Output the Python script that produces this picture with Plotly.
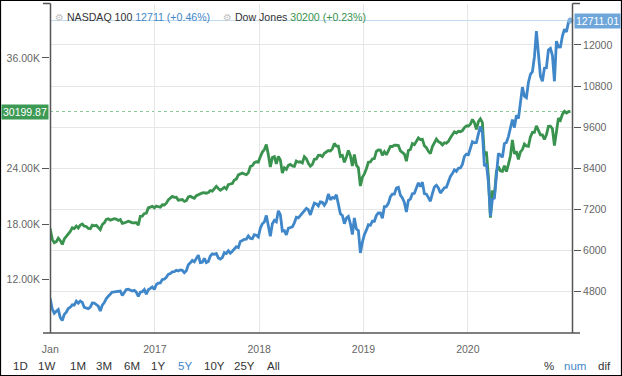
import pandas as pd
import plotly.graph_objects as go

# ---- data: weekly closes (Fridays) from 2015-12-25 to 2020-12-25 ----
week_start = "2015-12-25"

dow_2015 = [17552, 17425]
dow_2016 = [16346, 15988, 16094, 16466, 16205, 15800, 16392, 16640, 17007, 17213, 17602, 17516,
            17793, 17577, 17898, 18004, 17774, 17741, 17535, 17501, 17873, 17807, 17865, 17675,
            17400, 17949, 18147, 18516, 18571, 18432, 18543, 18577, 18553, 18395, 18492, 18085,
            18124, 18261, 18308, 18240, 18138, 18146, 18161, 17888, 18847, 18868, 19152, 19171,
            19757, 19843, 19934, 19763]
dow_2017 = [19964, 19886, 19827, 20094, 20071, 20269, 20624, 20822, 21005, 20903, 20914, 20596,
            20663, 20656, 20453, 20548, 20941, 21006, 20897, 20804, 21080, 21206, 21271, 21384,
            21394, 21350, 21414, 21637, 21580, 21830, 22092, 21858, 21675, 21814, 21988, 21797,
            22268, 22349, 22405, 22773, 22871, 23329, 23434, 23539, 23422, 23358, 23558, 24231,
            24329, 24651, 24754, 24719]
dow_2018 = [25295, 25803, 26071, 26617, 25521, 24190, 25219, 25310, 24538, 25336, 24946, 23533,
            24103, 23933, 24360, 24463, 24311, 24263, 24831, 24715, 24753, 24635, 25317, 25090,
            24581, 24271, 24456, 25019, 25058, 25451, 25463, 25313, 25669, 25790, 25965, 25917,
            26155, 26744, 26458, 26447, 25340, 25444, 24688, 25271, 25989, 25413, 24286, 25538,
            24389, 24101, 22130, 23062]
dow_2019 = [23433, 23996, 24706, 24737, 25064, 25106, 25883, 26031, 26026, 25450, 25849, 25502,
            25929, 26425, 26412, 26559, 26543, 26505, 25942, 25764, 25586, 24815, 25984, 26090,
            26720, 26600, 26922, 27332, 27154, 27192, 26485, 26287, 25886, 25629, 26403, 26797,
            27220, 26935, 26820, 26573, 26817, 26770, 26958, 27347, 27681, 28005, 27876, 28051,
            28015, 28135, 28455, 28645]
dow_2020 = [28634, 28823, 29348, 28990, 28256, 29102, 29398, 28992, 25409, 25864, 23186, 18700,
            21637, 21053, 23719, 24242, 23775, 23724, 24331, 23685, 24465, 25383, 27111, 25606,
            25871, 25016, 25827, 26075, 26672, 26470, 26428, 27433, 27931, 27930, 28654, 28133,
            27666, 27657, 27174, 27683, 28587, 28606, 28336, 26502, 28323, 29480, 29263, 29910,
            30218, 30046, 30179, 30199.87]

ndx_2015 = [4655, 4593]
ndx_2016 = [4290, 4169, 4226, 4279, 4042, 3960, 4137, 4201, 4309, 4345, 4418, 4410,
            4525, 4462, 4526, 4489, 4341, 4329, 4306, 4350, 4474, 4470, 4428, 4379,
            4234, 4410, 4484, 4600, 4666, 4730, 4791, 4797, 4807, 4795, 4820, 4690,
            4782, 4863, 4875, 4846, 4822, 4839, 4789, 4660, 4786, 4800, 4865, 4724,
            4857, 4897, 4941, 4864]
ndx_2017 = [5008, 5052, 5057, 5157, 5165, 5221, 5307, 5332, 5380, 5385, 5426, 5402,
            5436, 5424, 5352, 5412, 5584, 5642, 5711, 5672, 5788, 5867, 5647, 5660,
            5770, 5647, 5678, 5838, 5902, 5888, 5913, 5786, 5753, 5795, 5939, 5915,
            5996, 5925, 5980, 6051, 6110, 6084, 6267, 6293, 6330, 6335, 6425, 6353,
            6344, 6463, 6448, 6397]
ndx_2018 = [6653, 6782, 6834, 7022, 6763, 6417, 6780, 6883, 6838, 7159, 7047, 6570,
            6581, 6456, 6652, 6672, 6694, 6809, 6972, 6954, 7025, 7107, 7166, 7233,
            7192, 7040, 7226, 7385, 7359, 7301, 7420, 7407, 7325, 7416, 7651, 7480,
            7548, 7527, 7627, 7356, 7074, 7022, 6784, 6945, 6995, 6788, 6467, 6949,
            6628, 6586, 5930, 6243]
ndx_2019 = [6463, 6595, 6754, 6736, 6858, 6855, 7025, 7096, 7096, 6939, 7286, 7290,
            7378, 7570, 7646, 7646, 7824, 7845, 7617, 7536, 7405, 7127, 7466, 7502,
            7659, 7671, 7834, 7976, 7863, 7995, 7659, 7645, 7544, 7439, 7662, 7856,
            7905, 7827, 7677, 7755, 7834, 7846, 8004, 8161, 8247, 8357, 8311, 8403,
            8411, 8514, 8749, 8814]
ndx_2020 = [8794, 8964, 9174, 9144, 9151, 9402, 9624, 9446, 8462, 8530, 7995, 7000,
            7502, 7528, 8230, 8833, 8784, 8718, 9121, 9152, 9325, 9555, 9824, 9589,
            9946, 9849, 10341, 10769, 10504, 10461, 10905, 11139, 11219, 11650, 12400, 11622,
            11087, 10938, 11323, 11333, 11853, 11898, 11692, 10938, 12110, 11938, 11940, 12258,
            12456, 12377, 12655, 12711.01]

year_ticks = ["2016-01-01", "2017-01-01", "2018-01-01", "2019-01-01", "2020-01-01"]
year_labels = ["Jan", "2017", "2018", "2019", "2020"]
left_ticks = [12000, 18000, 24000, 36000]
left_labels = ["12.00K", "18.00K", "24.00K", "36.00K"]
right_ticks = [4800, 6000, 7200, 8400, 9600, 10800, 12000]
range_buttons = ["1D", "1W", "1M", "3M", "6M", "1Y", "5Y", "10Y", "25Y", "All"]
mode_buttons = ["%", "num", "dif"]

dow = dow_2015 + dow_2016 + dow_2017 + dow_2018 + dow_2019 + dow_2020
ndx = ndx_2015 + ndx_2016 + ndx_2017 + ndx_2018 + ndx_2019 + ndx_2020
dates = pd.date_range(week_start, periods=len(dow), freq="W-FRI")

BLUE = "#3f87c9"
GREEN = "#3a924f"
FONT = "Liberation Sans, Arial, sans-serif"

W, H = 622, 376
L, R, T, B = 50, 49, 4, 43
PW, PH = W - L - R, H - T - B


def px(x):
    return (x - L) / PW


def py(y):
    return (H - B - y) / PH


fig = go.Figure()
fig.add_trace(go.Scatter(x=dates, y=ndx, mode="lines", yaxis="y2",
                         line=dict(color=BLUE, width=2.8), name="NASDAQ 100"))
fig.add_trace(go.Scatter(x=dates, y=dow, mode="lines", yaxis="y",
                         line=dict(color=GREEN, width=2.8), name="Dow Jones"))
fig.add_trace(go.Scatter(x=[dates[-1]], y=[ndx[-1]], mode="markers", yaxis="y2",
                         marker=dict(color="#7fb0e0", size=6), cliponaxis=False))

shapes = []
# last price lines
shapes.append(dict(type="line", xref="paper", x0=0, x1=1, yref="y", y0=dow[-1], y1=dow[-1],
                   line=dict(color="#8cc99a", width=1, dash="dot"), layer="below"))
shapes.append(dict(type="line", xref="paper", x0=0, x1=1, yref="y2", y0=ndx[-1], y1=ndx[-1],
                   line=dict(color="#c2dbf1", width=1), layer="below"))
AX = "#555555"
# axis frame lines with end stubs
for seg in [((50.5, 3.5), (50.5, 333)), ((572.5, 3.5), (572.5, 333)),
            ((43, 333), (580, 333)), ((43, 3.5), (50.5, 3.5)), ((572.5, 3.5), (580, 3.5))]:
    (x0, y0), (x1, y1) = seg
    shapes.append(dict(type="line", xref="paper", yref="paper", x0=px(x0), y0=py(y0),
                       x1=px(x1), y1=py(y1), line=dict(color=AX, width=1.5)))
# outer border
shapes.append(dict(type="rect", xref="paper", yref="paper", x0=px(0.5), y0=py(375.5),
                   x1=px(621.5), y1=py(0.5), line=dict(color="#000000", width=1.2)))

ann = []
LEG = 10.6
# legend header
ann.append(dict(xref="paper", yref="paper", x=px(53), y=py(17), xanchor="left", yanchor="middle",
                showarrow=False, font=dict(family=FONT, size=LEG, color="#333333"),
                text="<span style='color:#c4c4c4;font-family:DejaVu Sans;font-size:10px'>⚙</span> NASDAQ 100 "
                     f"<span style='color:{BLUE}'>{round(ndx[-1])} (+0.46%)</span>"))
ann.append(dict(xref="paper", yref="paper", x=px(221), y=py(17), xanchor="left", yanchor="middle",
                showarrow=False, font=dict(family=FONT, size=LEG, color="#333333"),
                text="<span style='color:#c4c4c4;font-family:DejaVu Sans;font-size:10px'>⚙</span> Dow Jones "
                     f"<span style='color:{GREEN}'>{round(dow[-1])} (+0.23%)</span>"))
# price labels
ann.append(dict(xref="paper", yref="y", x=px(48.5), y=dow[-1], xanchor="right", yanchor="middle",
                showarrow=False, text=f"{dow[-1]:.2f}", bgcolor="#3d9a55", borderpad=1,
                font=dict(family=FONT, size=10.5, color="white")))
ann.append(dict(xref="paper", yref="y2", x=px(574), y=ndx[-1], xanchor="left", yanchor="middle",
                showarrow=False, text=f"{ndx[-1]:.2f}", bgcolor="#6ea6da", borderpad=1,
                font=dict(family=FONT, size=10.5, color="white")))
# range selector
btn_x = [20, 46, 78, 104, 132, 158, 185, 214, 244, 273]
for lab, xc in zip(range_buttons, btn_x):
    ann.append(dict(xref="paper", yref="paper", x=px(xc), y=py(366), xanchor="center",
                    yanchor="middle", showarrow=False, text=lab,
                    font=dict(family=FONT, size=11.5, color=BLUE if lab == "5Y" else "#333333")))
mode_x = [549, 575, 604]
for lab, xc in zip(mode_buttons, mode_x):
    ann.append(dict(xref="paper", yref="paper", x=px(xc), y=py(366), xanchor="center",
                    yanchor="middle", showarrow=False, text=lab,
                    font=dict(family=FONT, size=11.5, color=BLUE if lab == "num" else "#333333")))

fig.update_layout(
    width=W, height=H, margin=dict(l=L, r=R, t=T, b=B),
    paper_bgcolor="white", plot_bgcolor="white", showlegend=False,
    font=dict(family=FONT, size=10.5, color="#666666"),
    xaxis=dict(type="date", range=["2015-12-31", "2021-01-03"], tickvals=year_ticks,
               ticktext=year_labels, showgrid=True, gridcolor="#e6e6e6", gridwidth=1,
               ticks="outside", ticklen=6, tickcolor="rgba(0,0,0,0)", zeroline=False,
               tickfont=dict(size=10.5, color="#666666"), showline=False),
    yaxis=dict(range=[6200, 41850], tickvals=left_ticks, ticktext=left_labels,
               showgrid=False, zeroline=False, ticks="outside", ticklen=7, tickcolor=AX,
               tickwidth=1.2, tickfont=dict(size=10.5, color="#666666"), showline=False),
    yaxis2=dict(range=[3595, 13193], overlaying="y", side="right", tickvals=right_ticks,
                showgrid=True, gridcolor="#e6e6e6", zeroline=False, ticks="outside",
                ticklen=7, tickcolor=AX, tickwidth=1.2, tickformat="d",
                tickfont=dict(size=10.5, color="#666666"), showline=False),
    shapes=shapes, annotations=ann,
)

fig.write_html("out.html", config={"displayModeBar": False},
               post_script="document.body.style.margin='0';document.body.style.overflow='hidden';")
